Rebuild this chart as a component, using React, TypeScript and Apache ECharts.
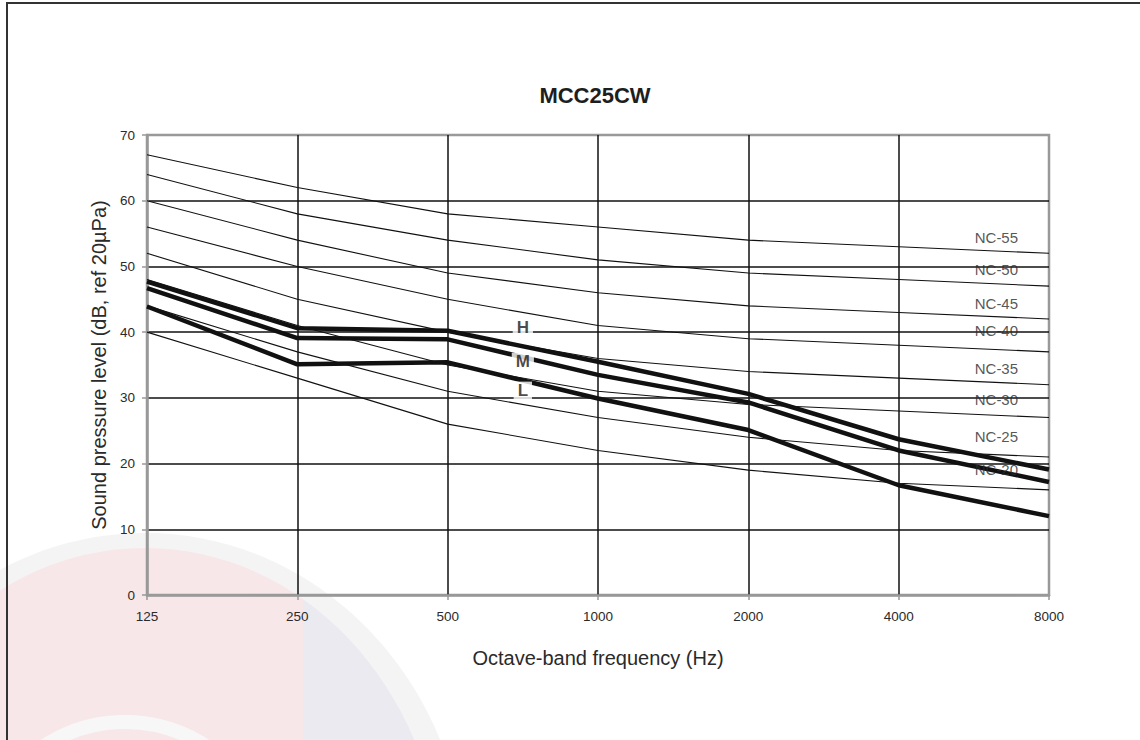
import React, { useEffect, useRef } from "react";
import * as echarts from "echarts";

const freqLabels = ["125", "250", "500", "1000", "2000", "4000", "8000"];

const nc20 = [40, 33, 26, 22, 19, 17, 16];
const nc25 = [44, 37, 31, 27, 24, 22, 21];
const nc30 = [48, 41, 35, 31, 29, 28, 27];
const nc35 = [52, 45, 40, 36, 34, 33, 32];
const nc40 = [56, 50, 45, 41, 39, 38, 37];
const nc45 = [60, 54, 49, 46, 44, 43, 42];
const nc50 = [64, 58, 54, 51, 49, 48, 47];
const nc55 = [67, 62, 58, 56, 54, 53, 52];
const ncCurves = [nc20, nc25, nc30, nc35, nc40, nc45, nc50, nc55];
const ncNames = ["NC-20", "NC-25", "NC-30", "NC-35", "NC-40", "NC-45", "NC-50", "NC-55"];
const ncLabelY = [19.1, 24.1, 29.8, 34.5, 40.2, 44.4, 49.6, 54.4];
const ncLabelX = 5.65;

const unitH = [47.7, 40.6, 40.2, 35.5, 30.6, 23.7, 19.1];
const unitM = [46.7, 39.1, 38.9, 33.5, 29.3, 22.0, 17.2];
const unitL = [43.9, 35.1, 35.4, 29.9, 25.1, 16.7, 12.0];
const unitCurves = [unitH, unitM, unitL];
const unitNames = ["H", "M", "L"];
const unitLabelY = [40.7, 35.5, 31.1];
const unitLabelX = 2.5;

const FONT = "'Liberation Sans', Arial, sans-serif";

export default function App() {
  const ref = useRef<HTMLDivElement>(null);
  useEffect(() => {
    if (!ref.current) return;
    const chart = echarts.init(ref.current, null, { renderer: "svg" });
    const toPts = (arr: number[]) => arr.map((v, i) => [i, v]);
    const series: any[] = [];
    ncCurves.forEach((c, k) => {
      series.push({
        name: ncNames[k],
        type: "line",
        data: toPts(c),
        symbol: "none",
        lineStyle: { color: "#111", width: 1.1 },
        z: 3,
        silent: true,
      });
    });
    unitCurves.forEach((c, k) => {
      series.push({
        name: unitNames[k],
        type: "line",
        data: toPts(c),
        symbol: "none",
        lineStyle: { color: "#111", width: 4.5 },
        z: 4,
        silent: true,
      });
    });
    series.push({
      type: "scatter",
      name: "NC labels",
      data: ncNames.map((n, i) => ({ name: n, value: [ncLabelX, ncLabelY[i]] })),
      symbolSize: 1,
      itemStyle: { color: "rgba(0,0,0,0)" },
      label: {
        show: true,
        position: "inside",
        formatter: (p: any) => p.name,
        color: "#2a2a2a",
        fontSize: 15,
        fontFamily: FONT,
      },
      z: 5,
      silent: true,
    });
    series.push({
      type: "scatter",
      name: "Unit labels",
      data: unitNames.map((n, i) => ({ name: n, value: [unitLabelX, unitLabelY[i]] })),
      symbolSize: 1,
      itemStyle: { color: "rgba(0,0,0,0)" },
      label: {
        show: true,
        position: "inside",
        formatter: (p: any) => p.name,
        color: "#1a1a1a",
        fontSize: 17,
        fontWeight: "bold",
        fontFamily: FONT,
        backgroundColor: "#fff",
        padding: [1, 4, 0, 4],
      },
      z: 6,
      silent: true,
    });

    chart.setOption({
      animation: false,
      backgroundColor: "#fff",
      title: {
        text: "MCC25CW",
        left: 595,
        top: 84,
        textAlign: "center",
        padding: 0,
        textStyle: { fontSize: 22, fontWeight: "bold", color: "#1e1e1e", fontFamily: FONT },
      },
      grid: {
        left: 147,
        right: 91,
        top: 135,
        bottom: 145,
        show: true,
        borderColor: "#999",
        borderWidth: 2.5,
        backgroundColor: "transparent",
      },
      xAxis: {
        type: "value",
        min: 0,
        max: 6,
        interval: 1,
        name: "Octave-band frequency (Hz)",
        nameLocation: "middle",
        nameGap: 53,
        nameTextStyle: { fontSize: 20, color: "#2a2a2a", fontFamily: FONT },
        axisLine: { show: true, lineStyle: { color: "#999", width: 2.5 } },
        axisTick: { show: true, length: 5, lineStyle: { color: "#999", width: 1.5 } },
        axisLabel: {
          formatter: (v: number) => freqLabels[v] ?? "",
          margin: 14,
          fontSize: 13.5,
          color: "#2a2a2a",
          fontFamily: FONT,
        },
        splitLine: {
          show: true,
          showMinLine: false,
          showMaxLine: false,
          lineStyle: { color: "#111", width: 1.5 },
        },
      },
      yAxis: {
        type: "value",
        min: 0,
        max: 70,
        interval: 10,
        name: "Sound pressure level (dB, ref 20µPa)",
        nameLocation: "middle",
        nameGap: 37,
        nameTextStyle: { fontSize: 20, color: "#2a2a2a", fontFamily: FONT },
        axisLine: { show: true, lineStyle: { color: "#999", width: 2.5 } },
        axisTick: { show: true, length: 5, lineStyle: { color: "#999", width: 1.5 } },
        axisLabel: { margin: 12, fontSize: 13.5, color: "#2a2a2a", fontFamily: FONT },
        splitLine: {
          show: true,
          showMinLine: false,
          showMaxLine: false,
          lineStyle: { color: "#111", width: 1.5 },
        },
      },
      graphic: [
        {
          type: "ellipse",
          silent: true,
          z: -10,
          shape: { cx: 145, cy: 878, rx: 322, ry: 345 },
          style: { fill: "#f4f4f5" },
        },
        {
          type: "ellipse",
          silent: true,
          z: -9,
          shape: { cx: 145, cy: 884, rx: 298, ry: 336 },
          style: {
            fill: new echarts.graphic.LinearGradient(0, 0, 1, 0, [
              { offset: 0, color: "#f8e7e9" },
              { offset: 0.765, color: "#f8e7e9" },
              { offset: 0.765, color: "#eaeaf0" },
              { offset: 1, color: "#eaeaf0" },
            ]),
          },
        },
        {
          type: "circle",
          silent: true,
          z: -8,
          shape: { cx: 125, cy: 870, r: 148 },
          style: { fill: "none", stroke: "#f7f7f8", lineWidth: 14 },
        },
        {
          type: "rect",
          silent: true,
          z: 10,
          shape: { x: 7, y: 3, width: 1160, height: 780 },
          style: { fill: "none", stroke: "#333", lineWidth: 2 },
        },
      ],
      series,
    });
    return () => chart.dispose();
  }, []);
  return (
    <div
      ref={ref}
      style={{ position: "fixed", left: 0, top: 0, width: 1140, height: 740 }}
    />
  );
}
